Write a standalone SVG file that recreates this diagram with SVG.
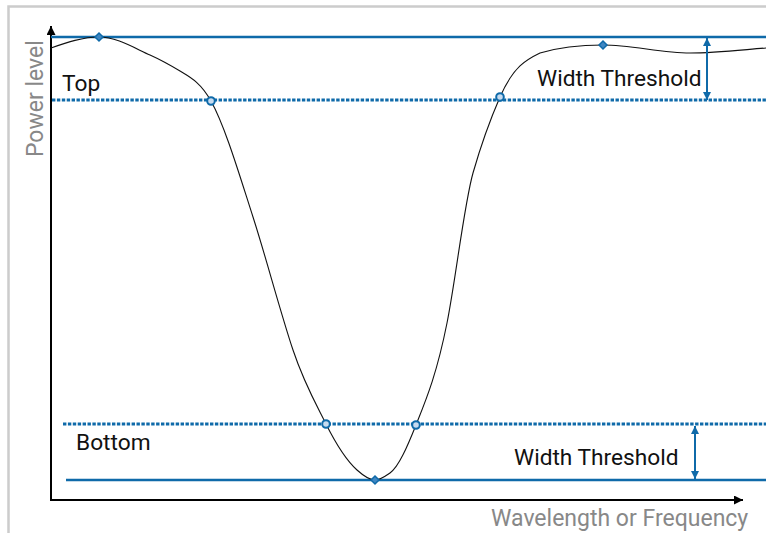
<svg xmlns="http://www.w3.org/2000/svg" width="766" height="533" viewBox="0 0 766 533">
<style>
.frame{fill:none;stroke:#cccccc;stroke-width:2.5}
.axis{fill:none;stroke:#000;stroke-width:2}
.solid{fill:none;stroke:#0f6aa9;stroke-width:2.6}
.dot{fill:none;stroke:#0f6aa9;stroke-width:3.2;stroke-dasharray:3.4 1.5}
.curve{fill:none;stroke:#111;stroke-width:1.1}
.lbl{font-family:Roboto,"Liberation Sans",sans-serif;font-size:22.7px;fill:#111}
.ax{font-family:Roboto,"Liberation Sans",sans-serif;font-size:23px;fill:#888}
.circ{fill:#c6dbf0;stroke:#0f6aa9;stroke-width:2}
.dia{fill:#3f86c2;stroke:#0f6aa9;stroke-width:1.5}
.dim{fill:none;stroke:#0f6aa9;stroke-width:2}
</style>
<defs>
<marker id="ah" viewBox="0 0 10 10" refX="10" refY="5" markerWidth="9" markerHeight="9" markerUnits="userSpaceOnUse" orient="auto-start-reverse"><path d="M0,0 L10,5 L0,10 z" fill="#000"/></marker>
<marker id="bh" viewBox="0 0 10 10" refX="10" refY="5" markerWidth="9" markerHeight="8" markerUnits="userSpaceOnUse" orient="auto-start-reverse"><path d="M0,0 L10,5 L0,10 z" fill="#0f6aa9"/></marker>
</defs>
<rect width="766" height="533" fill="#fff"/>
<path class="frame" d="M8.5,533 V6.5 H766"/>
<g id="axes">
<line class="axis" x1="51" y1="500" x2="51" y2="26" marker-end="url(#ah)"/>
<line class="axis" x1="50" y1="500" x2="743" y2="500" marker-end="url(#ah)"/>
</g>
<g id="levels">
<line id="top-solid" class="solid" x1="51" y1="37" x2="766" y2="37"/>
<line id="top-dotted" class="dot" x1="52" y1="100" x2="766" y2="100"/>
<line id="bottom-dotted" class="dot" x1="63" y1="424" x2="766" y2="424"/>
<line id="bottom-solid" class="solid" x1="66" y1="480" x2="766" y2="480"/>
</g>
<g id="curve">
<path class="curve" d="M51,48 C67,42.4 83,37 99,37 C116,37 133,47.3 150,55 C160,59.5 170,65 180,71 C190.3,77.2 200.7,82.5 211,101 C225,126.2 239,173.6 253,217 C266.3,258.3 279.7,310 293,350 C304,383 315,402 326,424 C336.3,444.6 346.7,460.7 357,470 C363,475.4 369,480 375,480 C380,480 385,476.5 390,473 C398.7,466.9 407.3,446.7 416,425 C426.3,399.2 436.7,374.5 447,323 C455.7,279.5 464.3,203.5 473,173 C482,141.5 491,117.7 500,97 C513.3,66.4 526.7,59.4 540,53 C561,46.7 582,45 603,45 C632,45 661,53 690,53 C715.3,53 740.7,50 766,48"/>
</g>
<g id="markers">
<polygon class="dia" points="99,33 103,37 99,41 95,37"/>
<polygon class="dia" points="603,41 607,45 603,49 599,45"/>
<polygon class="dia" points="375,476 379,480 375,484 371,480"/>
<circle class="circ" cx="211" cy="101" r="3.8"/>
<circle class="circ" cx="500" cy="97" r="3.8"/>
<circle class="circ" cx="326" cy="424" r="3.8"/>
<circle class="circ" cx="416" cy="425" r="3.8"/>
</g>
<g id="connectors">
<line class="dim" x1="707" y1="38" x2="707" y2="100" marker-start="url(#bh)" marker-end="url(#bh)"/>
<line class="dim" x1="695" y1="426" x2="695" y2="479" marker-start="url(#bh)" marker-end="url(#bh)"/>
</g>
<g id="labels">
<text id="top-label" class="lbl" x="62" y="91">Top</text>
<text id="bottom-label" class="lbl" x="76" y="450">Bottom</text>
<text id="top-width" class="lbl" x="537" y="86">Width Threshold</text>
<text id="bottom-width" class="lbl" x="514" y="465">Width Threshold</text>
<text id="y-label" class="ax" transform="translate(43,157) rotate(-90)">Power level</text>
<text id="x-label" class="ax" x="491" y="526">Wavelength or Frequency</text>
</g>
</svg>
